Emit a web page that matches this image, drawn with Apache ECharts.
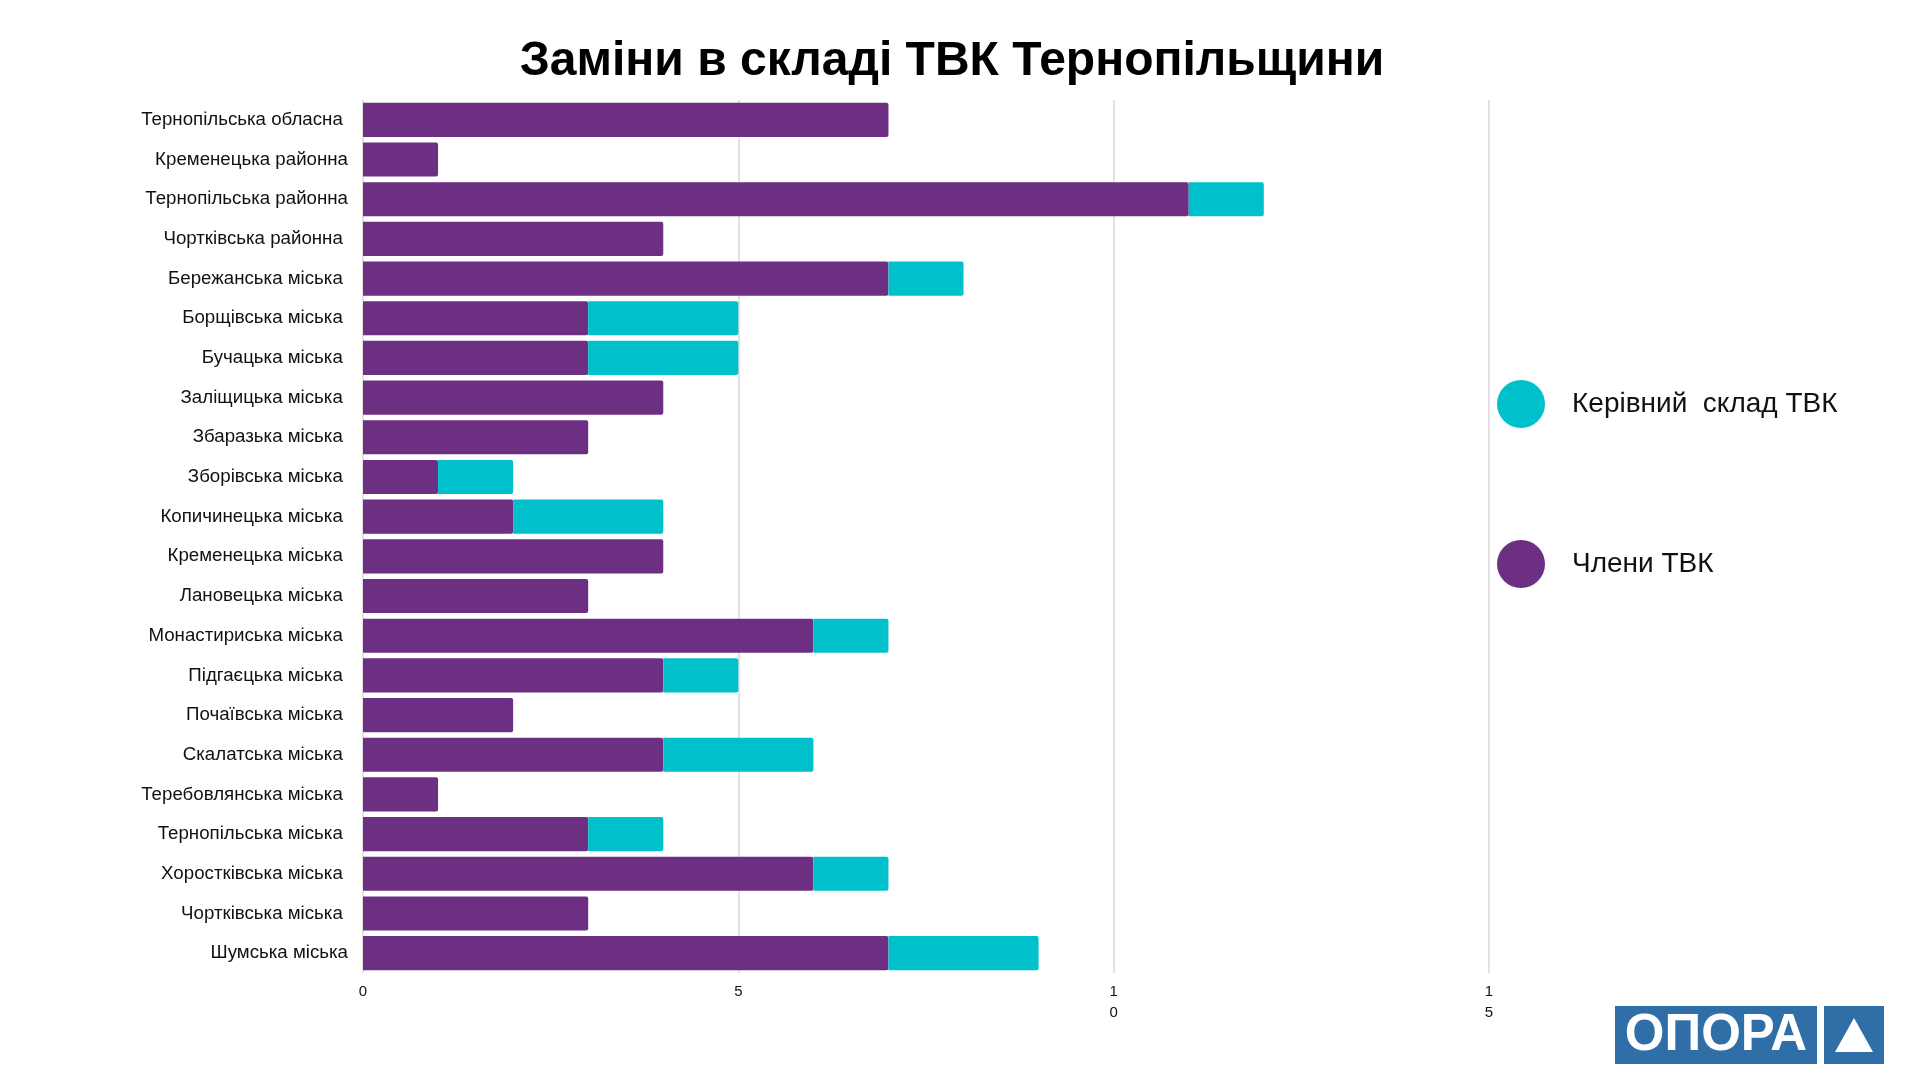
<!DOCTYPE html>
<html>
<head>
    <meta charset="utf-8">
    <title>Заміни в складі ТВК Тернопільщини</title>
    <script src="https://cdn.jsdelivr.net/npm/echarts@6/dist/echarts.min.js"></script>
    <style>
        html, body { margin: 0; padding: 0; background: #fff; }
        #main { width: 1920px; height: 1080px; }
    </style>
</head>
<body>
<div id="main"></div>
<script>
    // комісії
    var categories = [
        'Тернопільська обласна ', 'Кременецька районна', 'Тернопільська районна', 'Чортківська районна ',
        'Бережанська міська ', 'Борщівська міська ', 'Бучацька міська ', 'Заліщицька міська ',
        'Збаразька міська ', 'Зборівська міська ', 'Копичинецька міська ', 'Кременецька міська ',
        'Лановецька міська ', 'Монастириська міська ', 'Підгаєцька міська ', 'Почаївська міська ',
        'Скалатська міська ', 'Теребовлянська міська ', 'Тернопільська міська ', 'Хоростківська міська ',
        'Чортківська міська ', 'Шумська міська'
    ];
    // члени ТВК
    var members = [7, 1, 11, 4, 7, 3, 3, 4, 3, 1, 2, 4, 3, 6, 4, 2, 4, 1, 3, 6, 3, 7];
    // керівний склад ТВК
    var leaders = [0, 0, 1, 0, 1, 2, 2, 0, 0, 1, 2, 0, 0, 1, 1, 0, 2, 0, 1, 1, 0, 2];
    var xTicks = [0, 5, 10, 15];

    var purple = '#6c2f82';
    var teal = '#00c1cb';

    var myChart = echarts.init(document.getElementById('main'));
    var option = {
        backgroundColor: '#ffffff',
        textStyle: { fontFamily: 'Liberation Sans, Arial, sans-serif' },
        title: {
            text: 'Заміни в складі ТВК Тернопільщини',
            left: 947,
            top: 33,
            textAlign: 'center',
            textStyle: { fontSize: 48, fontWeight: 'bold', color: '#000' }
        },
        legend: {
            orient: 'vertical',
            left: 1492,
            top: 375,
            icon: 'circle',
            itemWidth: 48,
            itemHeight: 48,
            itemGap: 112,
            data: ['Керівний  склад ТВК', 'Члени ТВК'],
            textStyle: { fontSize: 28, color: '#111', padding: [0, 0, 0, 22] }
        },
        grid: { left: 363, right: 431, top: 100, bottom: 107 },
        xAxis: {
            type: 'value',
            min: xTicks[0],
            max: xTicks[xTicks.length - 1],
            interval: 5,
            axisLine: { show: false },
            axisTick: { show: false },
            splitLine: { lineStyle: { color: '#d9d9d9', width: 1.5 } },
            axisLabel: {
                margin: 8,
                fontSize: 15,
                lineHeight: 21,
                color: '#111',
                formatter: function (v) { return String(v).split('').join('\n'); }
            }
        },
        yAxis: {
            type: 'category',
            inverse: true,
            data: categories,
            axisLine: { show: false },
            axisTick: { show: false },
            axisLabel: { margin: 15, fontSize: 18.7, color: '#111' }
        },
        series: [
            {
                name: 'Члени ТВК',
                type: 'bar',
                stack: 'all',
                barCategoryGap: '14%',
                itemStyle: { color: purple, borderRadius: [0, 2, 2, 0] },
                data: members
            },
            {
                name: 'Керівний  склад ТВК',
                type: 'bar',
                stack: 'all',
                barCategoryGap: '14%',
                itemStyle: { color: teal, borderRadius: [0, 2, 2, 0] },
                data: leaders
            }
        ],
        graphic: [
            { type: 'rect', shape: { x: 1615, y: 1006, width: 202, height: 58 }, style: { fill: '#2f6ea7' } },
            { type: 'text', style: { x: 1716, y: 1036, text: 'ОПОРА', fill: '#fff', font: 'bold 51px Liberation Sans, Arial', textAlign: 'center', textVerticalAlign: 'middle' } },
            { type: 'rect', shape: { x: 1824, y: 1006, width: 60, height: 58 }, style: { fill: '#2f6ea7' } },
            { type: 'polygon', shape: { points: [[1854, 1018], [1873, 1052], [1835, 1052]] }, style: { fill: '#fff' } }
        ]
    };
    myChart.setOption(option);
</script>
</body>
</html>
